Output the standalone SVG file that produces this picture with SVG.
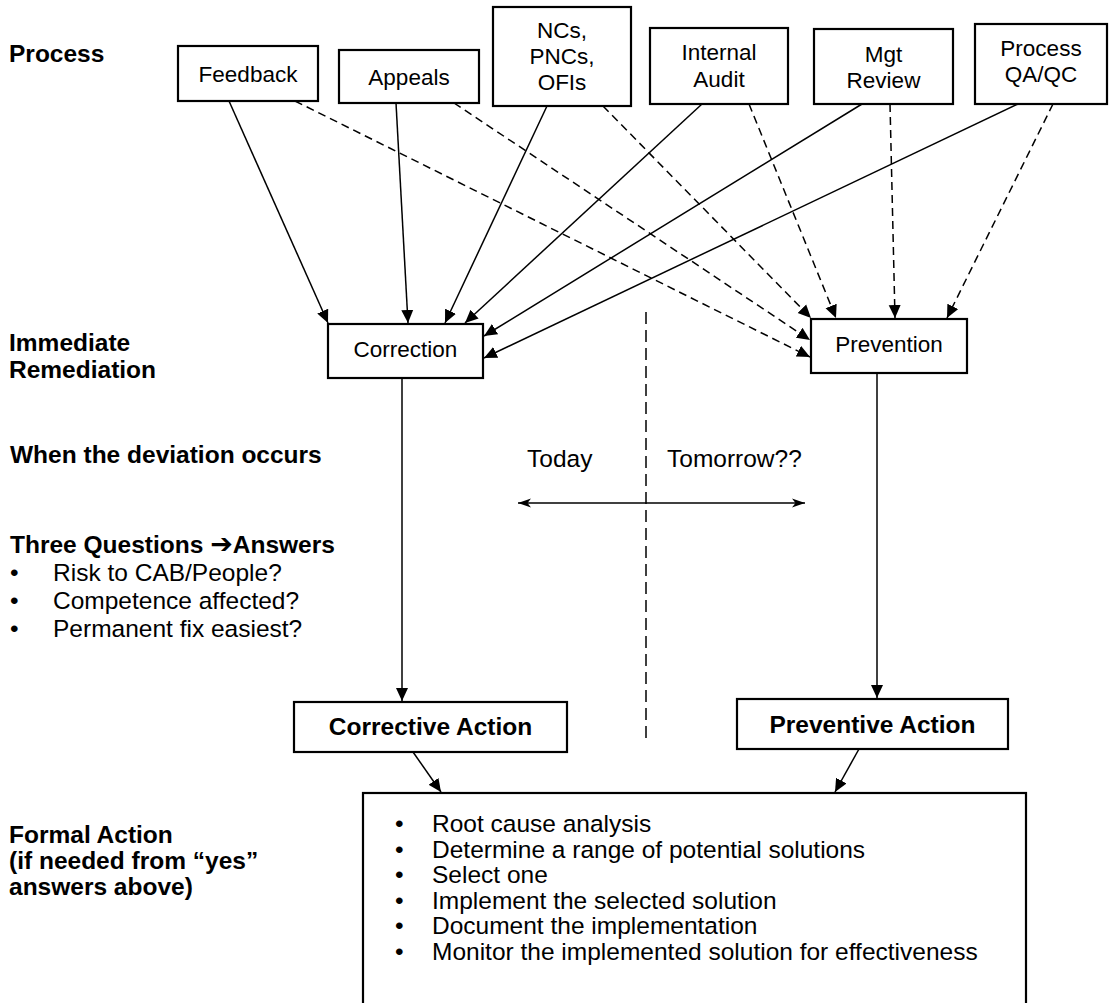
<svg xmlns="http://www.w3.org/2000/svg" width="1109" height="1003" viewBox="0 0 1109 1003">
  <style>
    text { font-family: "Liberation Sans", Arial, sans-serif; fill: #000; }
    .lbl { font-size: 24.5px; font-weight: bold; }
    .item { font-size: 24.5px; }
    .box text { font-size: 22.5px; text-anchor: middle; }
    .box rect { fill: #fff; stroke: #000; stroke-width: 2.2; }
    .act text { font-size: 24.5px; font-weight: bold; text-anchor: middle; }
    .solid { stroke: #000; stroke-width: 1.5; fill: none; marker-end: url(#head); }
    .dash { stroke: #000; stroke-width: 1.5; fill: none; stroke-dasharray: 8 5; marker-end: url(#head); }
  </style>
  <defs>
    <marker id="head" markerUnits="userSpaceOnUse" markerWidth="14" markerHeight="13" refX="13" refY="6.5" orient="auto">
      <path d="M0,0.5 L13,6.5 L0,12.5 z" fill="#000"/>
    </marker>
    <marker id="stealth" markerUnits="userSpaceOnUse" markerWidth="14" markerHeight="10" refX="13" refY="5" orient="auto-start-reverse">
      <path d="M0,0.5 L13,5 L0,9.5 L3.5,5 z" fill="#000"/>
    </marker>
  </defs>

  <rect width="1109" height="1003" fill="#fff"/>

  <!-- row labels down the left side -->
  <g id="row-labels">
    <text class="lbl" x="9" y="62">Process</text>
    <text class="lbl" x="9" y="351">Immediate</text>
    <text class="lbl" x="9" y="378">Remediation</text>
    <text class="lbl" x="10" y="463">When the deviation occurs</text>
    <text class="lbl" x="10" y="553">Three Questions <tspan font-family="'DejaVu Sans', sans-serif" font-size="27px">➔</tspan>Answers</text>
    <text class="item" x="10" y="581">•</text>
    <text class="item" x="53" y="581">Risk to CAB/People?</text>
    <text class="item" x="10" y="609">•</text>
    <text class="item" x="53" y="609">Competence affected?</text>
    <text class="item" x="10" y="637">•</text>
    <text class="item" x="53" y="637">Permanent fix easiest?</text>
    <text class="lbl" x="9" y="843">Formal Action</text>
    <text class="lbl" x="9" y="869">(if needed from “yes”</text>
    <text class="lbl" x="9" y="895">answers above)</text>
  </g>

  <!-- time axis -->
  <g id="timeline">
    <line x1="646" y1="312" x2="646" y2="742" stroke="#000" stroke-width="1.5" stroke-dasharray="12 6"/>
    <line x1="518" y1="503" x2="805" y2="503" stroke="#000" stroke-width="1.5" marker-start="url(#stealth)" marker-end="url(#stealth)"/>
    <text class="item" x="527" y="467">Today</text>
    <text class="item" x="667" y="467">Tomorrow??</text>
  </g>

  <!-- connectors -->
  <g id="connectors">
    <line class="solid" x1="229" y1="101" x2="328" y2="323"/>
    <line class="dash" x1="295" y1="101" x2="810" y2="357"/>
    <line class="solid" x1="396" y1="103" x2="408" y2="323"/>
    <line class="dash" x1="454" y1="103" x2="810" y2="340"/>
    <line class="solid" x1="547" y1="106" x2="445" y2="323"/>
    <line class="dash" x1="603" y1="106" x2="811" y2="318"/>
    <line class="solid" x1="702" y1="104" x2="465" y2="323"/>
    <line class="dash" x1="749" y1="104" x2="836" y2="318"/>
    <line class="solid" x1="862" y1="104" x2="484" y2="336"/>
    <line class="dash" x1="890" y1="104" x2="895" y2="318"/>
    <line class="solid" x1="1018" y1="104" x2="484" y2="358"/>
    <line class="dash" x1="1053" y1="104" x2="947" y2="318"/>
    <line class="solid" x1="402" y1="378" x2="402" y2="701"/>
    <line class="solid" x1="877" y1="373" x2="877" y2="698"/>
    <line class="solid" x1="413" y1="752" x2="441" y2="792"/>
    <line class="solid" x1="859" y1="749" x2="835" y2="792"/>
  </g>

  <!-- source processes -->
  <g id="feedback" class="box">
    <rect x="178" y="46" width="140" height="55"/>
    <text x="248" y="82">Feedback</text>
  </g>
  <g id="appeals" class="box">
    <rect x="339" y="50" width="140" height="53"/>
    <text x="409" y="85">Appeals</text>
  </g>
  <g id="ncs" class="box">
    <rect x="493" y="7" width="138" height="99"/>
    <text x="562" y="38">NCs,</text>
    <text x="562" y="64">PNCs,</text>
    <text x="562" y="90">OFIs</text>
  </g>
  <g id="internal-audit" class="box">
    <rect x="650" y="28" width="138" height="76"/>
    <text x="719" y="60">Internal</text>
    <text x="719" y="87">Audit</text>
  </g>
  <g id="mgt-review" class="box">
    <rect x="814" y="29" width="139" height="75"/>
    <text x="883.5" y="62">Mgt</text>
    <text x="883.5" y="88">Review</text>
  </g>
  <g id="process-qaqc" class="box">
    <rect x="975" y="24" width="132" height="80"/>
    <text x="1041" y="56">Process</text>
    <text x="1041" y="82">QA/QC</text>
  </g>

  <!-- immediate remediation -->
  <g id="correction" class="box">
    <rect x="328" y="324" width="155" height="54"/>
    <text x="405.5" y="357">Correction</text>
  </g>
  <g id="prevention" class="box">
    <rect x="811" y="319" width="156" height="54"/>
    <text x="889" y="352">Prevention</text>
  </g>

  <!-- formal actions -->
  <g id="corrective-action" class="box act">
    <rect x="294" y="702" width="273" height="50"/>
    <text x="430.5" y="735">Corrective Action</text>
  </g>
  <g id="preventive-action" class="box act">
    <rect x="737" y="699" width="271" height="50"/>
    <text x="872.5" y="733">Preventive Action</text>
  </g>

  <!-- formal action steps -->
  <g id="formal-steps">
    <rect x="363" y="793" width="663" height="230" fill="#fff" stroke="#000" stroke-width="2.2"/>
    <g class="item">
      <text x="395" y="832">•</text><text x="432" y="832">Root cause analysis</text>
      <text x="395" y="858">•</text><text x="432" y="858">Determine a range of potential solutions</text>
      <text x="395" y="883">•</text><text x="432" y="883">Select one</text>
      <text x="395" y="909">•</text><text x="432" y="909">Implement the selected solution</text>
      <text x="395" y="934">•</text><text x="432" y="934">Document the implementation</text>
      <text x="395" y="960">•</text><text x="432" y="960">Monitor the implemented solution for effectiveness</text>
    </g>
  </g>
</svg>
